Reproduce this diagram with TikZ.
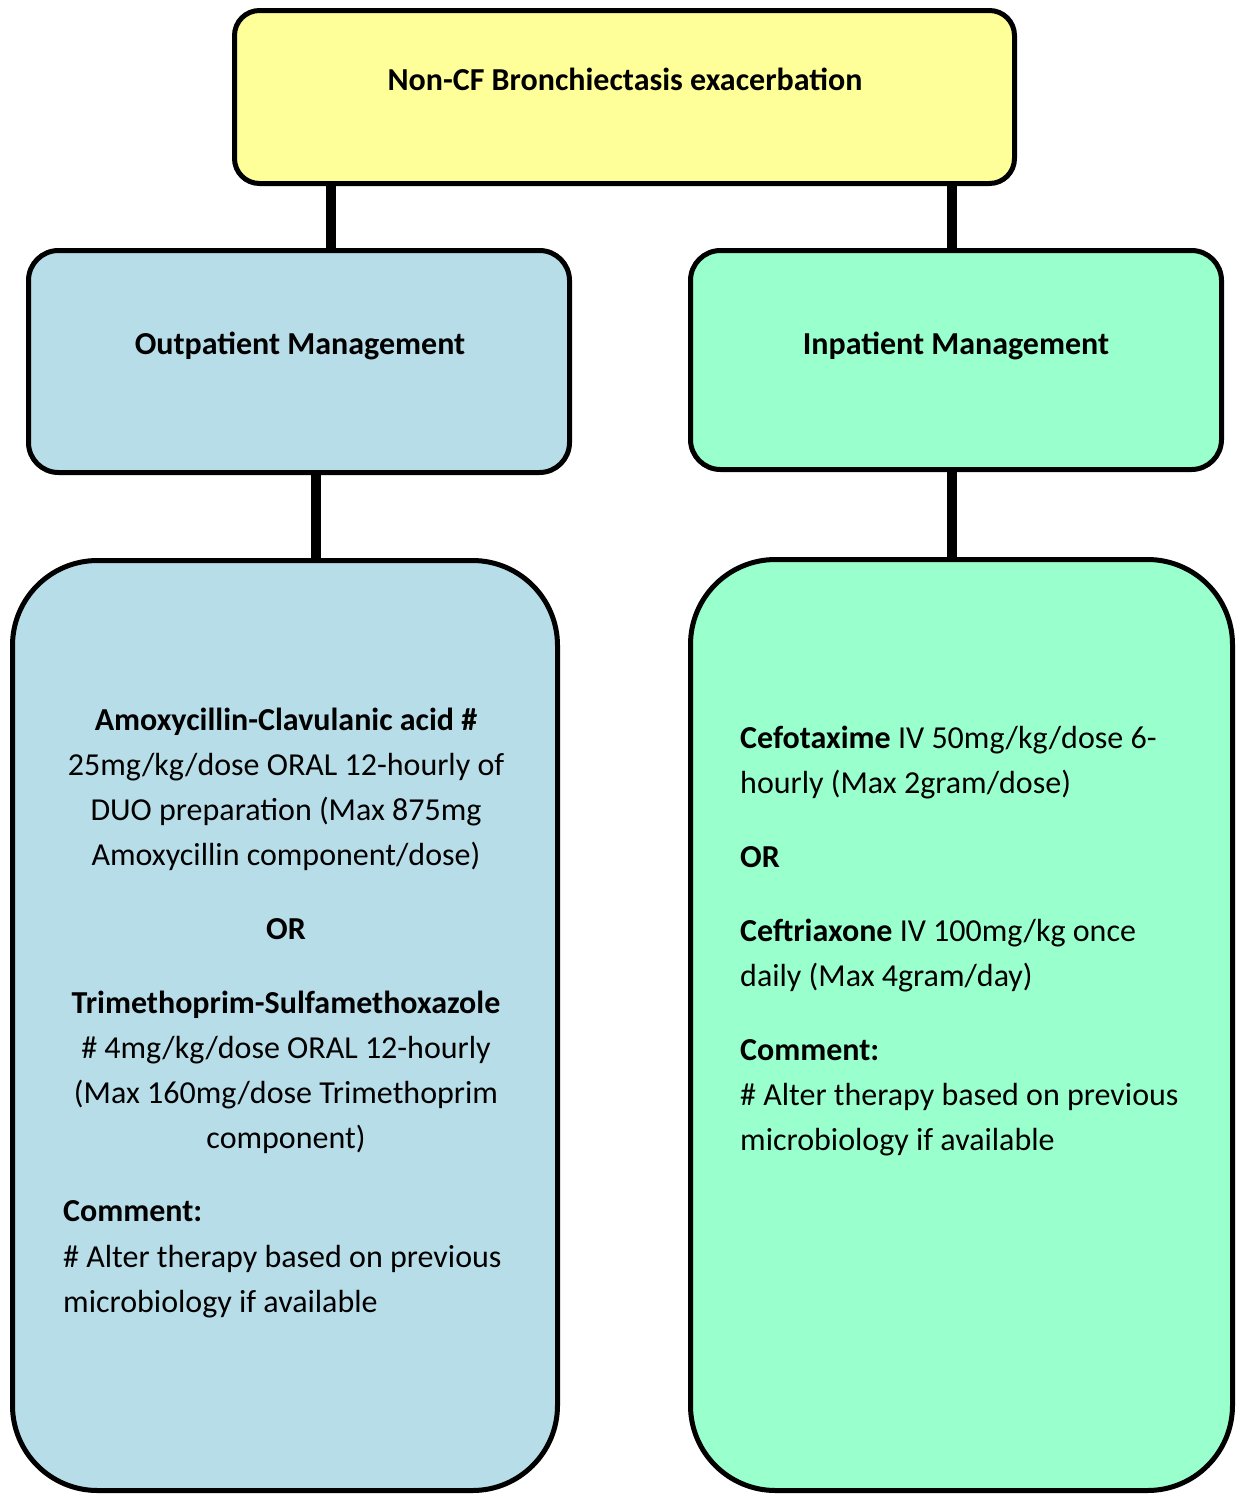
\documentclass[tikz,border=0pt]{standalone}
\usepackage{fontspec}
\setmainfont{Carlito}
\definecolor{topyellow}{HTML}{FFFF99}
\definecolor{outblue}{HTML}{B7DDE8}
\definecolor{ingreen}{HTML}{99FFCC}
\begin{document}
\begin{tikzpicture}[x=1pt,y=-1pt,
  box/.style={draw=black,line width=5pt,rectangle,inner sep=0pt},
  conn/.style={line width=10pt,black},
  txt/.style={inner sep=0pt,anchor=base,font=\fontsize{32}{38}\selectfont},
  ltxt/.style={txt,anchor=base west},
  ttxt/.style={txt,font=\fontsize{32}{38}\selectfont\bfseries}]
\useasboundingbox (0,0) rectangle (1237,1494);
% boxes
\node[box,fill=topyellow,rounded corners=25pt,minimum width=780pt,minimum height=173pt] (top) at (624.5,97) {};
\node[box,fill=outblue,rounded corners=30pt,minimum width=541pt,minimum height=222pt] (out) at (299,361.5) {};
\node[box,fill=ingreen,rounded corners=30pt,minimum width=531pt,minimum height=219pt] (in) at (956,360) {};
\node[box,fill=outblue,rounded corners=85pt,minimum width=545pt,minimum height=930pt] (outrx) at (285,1025.5) {};
\node[box,fill=ingreen,rounded corners=85pt,minimum width=542pt,minimum height=931pt] (inrx) at (961.5,1025) {};
% connectors
\draw[conn] ([xshift=-293.5pt]top.south) -- ([xshift=-293.5pt]top.south |- out.north);
\draw[conn] ([xshift=-4pt]in.north |- top.south) -- ([xshift=-4pt]in.north);
\draw[conn] ([xshift=17pt]out.south) -- ([xshift=17pt]out.south |- outrx.north);
\draw[conn] ([xshift=-4pt]in.south) -- ([xshift=-4pt]in.south |- inrx.north);
% titles
\node[ttxt] (ttop) at (625,90) {Non-CF Bronchiectasis exacerbation};
\node[ttxt] (tout) at (300,354) {Outpatient Management};
\node[ttxt] (tin) at (956,354) {Inpatient Management};
% outpatient treatment
\node[txt] (o1) at (286,730) {\textbf{Amoxycillin-Clavulanic acid \#}};
\node[txt] (o2) at (286,775) {25mg/kg/dose ORAL 12-hourly of};
\node[txt] (o3) at (286,820) {DUO preparation (Max 875mg};
\node[txt] (o4) at (286,865) {Amoxycillin component/dose)};
\node[txt] (o5) at (286,939) {\textbf{OR}};
\node[txt] (o6) at (286,1013) {\textbf{Trimethoprim-Sulfamethoxazole}};
\node[txt] (o7) at (286,1058) {\# 4mg/kg/dose ORAL 12-hourly};
\node[txt] (o8) at (286,1103) {(Max 160mg/dose Trimethoprim};
\node[txt] (o9) at (286,1148) {component)};
\node[ltxt] (o10) at (63,1221) {\textbf{Comment:}};
\node[ltxt] (o11) at (63,1267) {\# Alter therapy based on previous};
\node[ltxt] (o12) at (63,1312) {microbiology if available};
% inpatient treatment
\node[ltxt] (i1) at (740,748) {\textbf{Cefotaxime} IV 50mg/kg/dose 6-};
\node[ltxt] (i2) at (740,793) {hourly (Max 2gram/dose)};
\node[ltxt] (i3) at (740,867) {\textbf{OR}};
\node[ltxt] (i4) at (740,941) {\textbf{Ceftriaxone} IV 100mg/kg once};
\node[ltxt] (i5) at (740,986) {daily (Max 4gram/day)};
\node[ltxt] (i6) at (740,1060) {\textbf{Comment:}};
\node[ltxt] (i7) at (740,1105) {\# Alter therapy based on previous};
\node[ltxt] (i8) at (740,1150) {microbiology if available};
\end{tikzpicture}
\end{document}
